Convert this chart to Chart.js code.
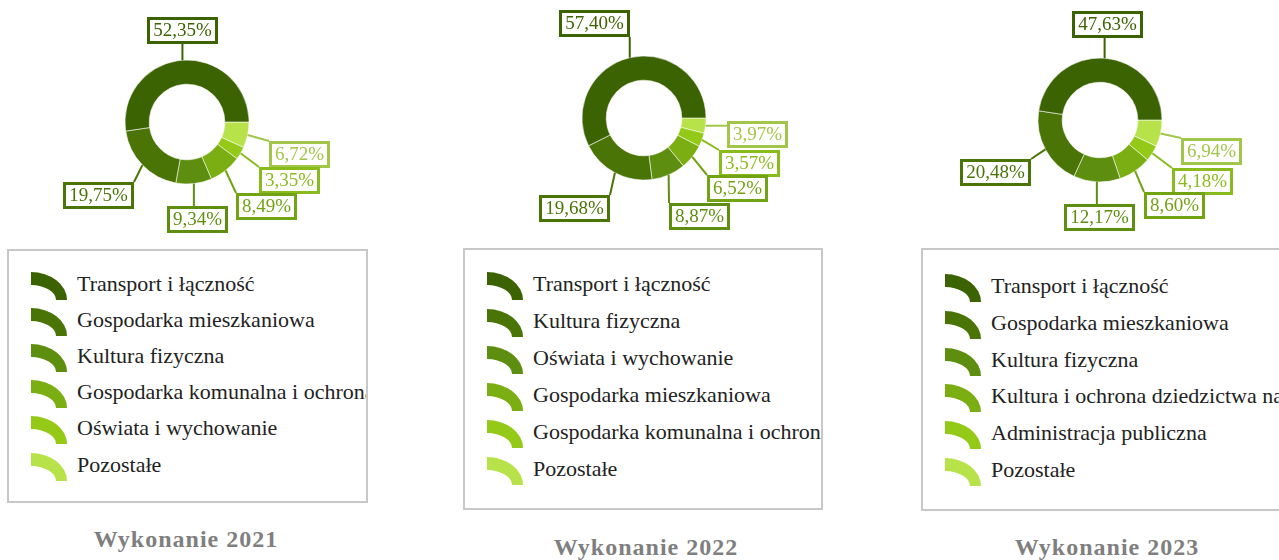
<!DOCTYPE html>
<html lang="pl">
<head>
<meta charset="utf-8">
<title>Wykonanie 2021–2023</title>
<script src="https://cdn.jsdelivr.net/npm/chart.js@4.4.1/dist/chart.umd.min.js"></script>
<style>
  html, body { margin: 0; padding: 0; background: #fff; overflow: hidden; }
  body { width: 1279px; height: 560px; position: relative; font-family: "Liberation Serif", "Times New Roman", serif; }
  .chart { position: absolute; }
  .legend { position: absolute; box-sizing: border-box; border: 2px solid #c8c8c8; overflow: hidden; background: #fff; }
  .legend .row { position: absolute; left: 0; height: 28px; white-space: nowrap; }
  .legend canvas { position: absolute; left: 22px; top: 0; }
  .legend span { position: absolute; left: 68px; top: -2px; font-size: 22px; line-height: 28px; color: #222; }
  .title { position: absolute; width: 300px; text-align: center; font-weight: bold; font-size: 24px; line-height: 24px; letter-spacing: 1px; color: #7f7f7f; white-space: nowrap; }
</style>
</head>
<body>
<script>
const years = ['2021', '2022', '2023'];

const labels2021 = ['Transport i łączność', 'Gospodarka mieszkaniowa', 'Kultura fizyczna',
    'Gospodarka komunalna i ochrona środowiska', 'Oświata i wychowanie', 'Pozostałe'];
const values2021 = [52.35, 19.75, 9.34, 8.49, 3.35, 6.72];

const labels2022 = ['Transport i łączność', 'Kultura fizyczna', 'Oświata i wychowanie',
    'Gospodarka mieszkaniowa', 'Gospodarka komunalna i ochrona środowiska', 'Pozostałe'];
const values2022 = [57.40, 19.68, 8.87, 6.52, 3.57, 3.97];

const labels2023 = ['Transport i łączność', 'Gospodarka mieszkaniowa', 'Kultura fizyczna',
    'Kultura i ochrona dziedzictwa narodowego', 'Administracja publiczna', 'Pozostałe'];
const values2023 = [47.63, 20.48, 12.17, 8.60, 4.18, 6.94];

// slice colours go by position, darkest first
const colors = ['#3c6302', '#4a7506', '#5e8e0f', '#7bae12', '#95c917', '#b8e24a'];
const labelColors = ['#3c6302', '#4a7506', '#5e8e0f', '#72a313', '#8abb1c', '#a2c64a'];

// where each callout box sits, relative to the doughnut centre
const layout = [
    {
        cx: 187, cy: 122,
        offsets: [[-5, -92], [-89, 73], [10, 97], [79, 84], [102, 58], [112, 32]],
        legend: { x: 7, y: 249, w: 361, h: 254, top: 21, gap: 36.1 },
        title: { cx: 186, base: 547 }
    },
    {
        cx: 644, cy: 118,
        offsets: [[-50, -95], [-70, 90], [55, 98], [93, 70], [105, 45], [113, 16]],
        legend: { x: 463, y: 248, w: 360, h: 262, top: 22, gap: 37 },
        title: { cx: 646, base: 554.5 }
    },
    {
        cx: 1100, cy: 120,
        offsets: [[7, -96], [-105, 52], [-1, 97], [74, 85], [102, 61], [111, 31]],
        legend: { x: 921, y: 248, w: 400, h: 263, top: 24, gap: 36.8 },
        title: { cx: 1107, base: 554.5 }
    }
];

const fmt = v => v.toFixed(2).replace('.', ',') + '%';

// boxed percentage labels with a leader line from the slice edge
const calloutLabels = {
    id: 'calloutLabels',
    afterDatasetsDraw(chart, args, opts) {
        const ctx = chart.ctx;
        const arcs = chart.getDatasetMeta(0).data;
        const values = chart.data.datasets[0].data;
        ctx.save();
        ctx.font = '19px "Liberation Serif"';
        const boxes = arcs.map((arc, i) => {
            const p = arc.getProps(['x', 'y', 'startAngle', 'endAngle', 'outerRadius'], true);
            const mid = (p.startAngle + p.endAngle) / 2;
            const text = fmt(values[i]);
            const w = Math.round(ctx.measureText(text).width) + 12, h = 27;
            const bx = Math.round(p.x + opts.offsets[i][0] - w / 2);
            const by = Math.round(p.y + opts.offsets[i][1] - h / 2);
            const ax = p.x + Math.cos(mid) * p.outerRadius;
            const ay = p.y + Math.sin(mid) * p.outerRadius;
            return { text, w, h, bx, by, ax, ay, color: opts.colors[i] };
        });

        ctx.lineWidth = 2;
        boxes.forEach(b => {
            const px = Math.min(Math.max(b.ax, b.bx), b.bx + b.w);
            const py = Math.min(Math.max(b.ay, b.by), b.by + b.h);
            ctx.strokeStyle = b.color;
            ctx.beginPath();
            ctx.moveTo(b.ax, b.ay);
            ctx.lineTo(px, py);
            ctx.stroke();
        });

        ctx.lineWidth = 3;
        ctx.textAlign = 'center';
        ctx.textBaseline = 'middle';
        boxes.forEach(b => {
            ctx.fillStyle = '#fff';
            ctx.fillRect(b.bx, b.by, b.w, b.h);
            ctx.strokeStyle = b.color;
            ctx.strokeRect(b.bx + 1.5, b.by + 1.5, b.w - 3, b.h - 3);
            ctx.fillStyle = b.color;
            ctx.fillText(b.text, b.bx + b.w / 2, b.by + b.h / 2 + 1);
        });
        ctx.restore();
    }
};

function legendIcon(color) {
    const c = document.createElement('canvas');
    c.width = 40; c.height = 30;
    const g = c.getContext('2d');
    g.fillStyle = color;
    g.beginPath();
    g.ellipse(0, 28, 36, 28, 0, -Math.PI / 2, 0);
    g.ellipse(0, 28, 25, 15, 0, 0, -Math.PI / 2, true);
    g.closePath();
    g.fill();
    return c;
}

function drawPanel(labels, values, year, pos) {
    const canvas = document.createElement('canvas');
    canvas.width = 380;
    canvas.height = 250;
    canvas.className = 'chart';
    canvas.style.left = (pos.cx - 190) + 'px';
    canvas.style.top = (pos.cy - 125) + 'px';
    document.body.appendChild(canvas);

    // slices run clockwise from 3 o'clock, so the list goes in last-to-first
    const order = values.map((v, i) => i).reverse();

    new Chart(canvas, {
        type: 'doughnut',
        data: {
            labels: order.map(i => labels[i]),
            datasets: [{
                data: order.map(i => values[i]),
                backgroundColor: order.map(i => colors[i]),
                borderColor: 'rgba(255,255,255,0.55)',
                borderWidth: 1
            }]
        },
        options: {
            responsive: false,
            animation: false,
            radius: 62,
            cutout: '61%',
            rotation: 90,
            layout: { padding: 0 },
            plugins: {
                legend: { display: false },
                tooltip: { enabled: false },
                calloutLabels: {
                    offsets: order.map(i => pos.offsets[i]),
                    colors: order.map(i => labelColors[i])
                }
            }
        },
        plugins: [calloutLabels]
    });

    const lg = pos.legend;
    const box = document.createElement('div');
    box.className = 'legend';
    Object.assign(box.style, { left: lg.x + 'px', top: lg.y + 'px', width: lg.w + 'px', height: lg.h + 'px' });
    labels.forEach((name, i) => {
        const row = document.createElement('div');
        row.className = 'row';
        row.style.top = (lg.top + i * lg.gap) + 'px';
        row.appendChild(legendIcon(colors[i]));
        const span = document.createElement('span');
        span.textContent = name;
        row.appendChild(span);
        box.appendChild(row);
    });
    document.body.appendChild(box);

    const title = document.createElement('div');
    title.className = 'title';
    title.textContent = 'Wykonanie ' + year;
    title.style.left = (pos.title.cx - 150) + 'px';
    title.style.top = (pos.title.base - 20) + 'px';
    document.body.appendChild(title);
}

drawPanel(labels2021, values2021, years[0], layout[0]);
drawPanel(labels2022, values2022, years[1], layout[1]);
drawPanel(labels2023, values2023, years[2], layout[2]);
</script>
</body>
</html>
